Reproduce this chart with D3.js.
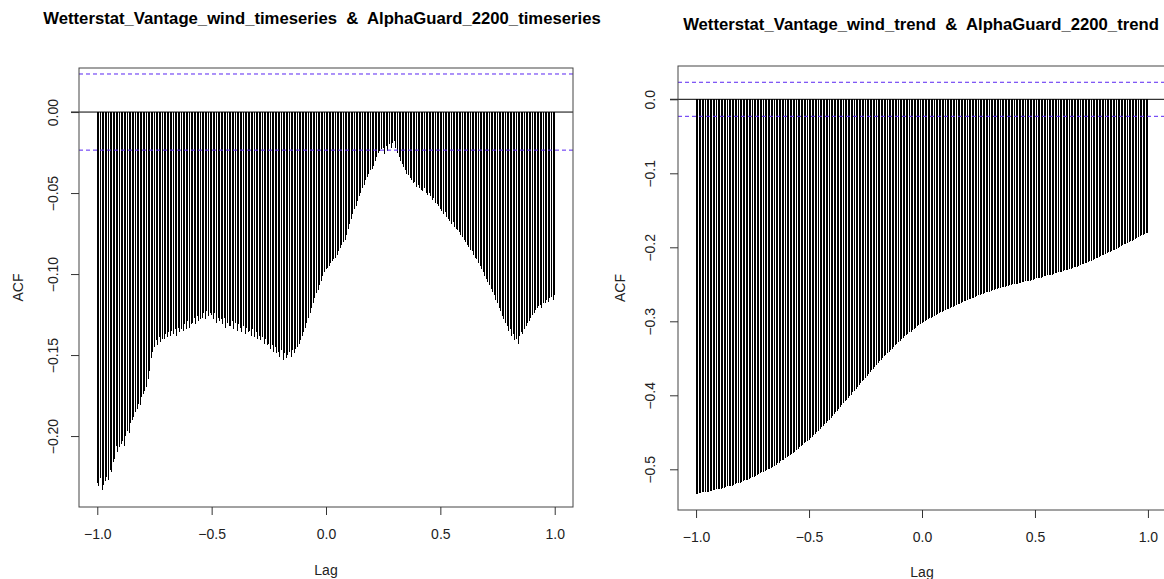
<!DOCTYPE html>
<html>
<head>
<meta charset="utf-8">
<script src="https://cdn.jsdelivr.net/npm/d3@7"></script>
<style>
  body { margin: 0; background: #fff; }
  svg { display: block; font-family: "Liberation Sans", Arial, Helvetica, sans-serif; }
</style>
</head>
<body>
<svg id="chart" width="1164" height="579"></svg>
<script>
// Lags in observation steps; 144 steps make one unit of lag.
const lagSteps = d3.range(-144, 145);
const stepsPerUnit = 144;

// Cross-correlation: wind time series vs. radon time series
const windAcf = [
  -0.229, -0.231, -0.226, -0.233, -0.230, -0.228,
  -0.225, -0.227, -0.221, -0.222, -0.216, -0.214,
  -0.206, -0.210, -0.207, -0.205, -0.203, -0.206,
  -0.200, -0.197, -0.198, -0.192, -0.190, -0.188,
  -0.185, -0.183, -0.180, -0.181, -0.176, -0.174,
  -0.172, -0.170, -0.165, -0.160, -0.152, -0.148,
  -0.145, -0.141, -0.144, -0.139, -0.142, -0.140,
  -0.140, -0.137, -0.139, -0.136, -0.138, -0.135,
  -0.137, -0.134, -0.138, -0.133, -0.136, -0.134,
  -0.135, -0.131, -0.134, -0.129, -0.133, -0.131,
  -0.130, -0.127, -0.131, -0.126, -0.129, -0.128,
  -0.127, -0.124, -0.128, -0.123, -0.126, -0.124,
  -0.125, -0.128, -0.124, -0.130, -0.127, -0.129,
  -0.128, -0.131, -0.127, -0.133, -0.130, -0.132,
  -0.132, -0.129, -0.134, -0.130, -0.135, -0.131,
  -0.133, -0.136, -0.132, -0.137, -0.133, -0.136,
  -0.135, -0.138, -0.134, -0.139, -0.136, -0.140,
  -0.138, -0.141, -0.139, -0.143, -0.140, -0.144,
  -0.143, -0.146, -0.144, -0.148, -0.145, -0.149,
  -0.148, -0.151, -0.147, -0.153, -0.149, -0.152,
  -0.150, -0.148, -0.151, -0.147, -0.149, -0.146,
  -0.145, -0.143, -0.141, -0.138, -0.136, -0.133,
  -0.130, -0.127, -0.124, -0.121, -0.118, -0.115,
  -0.112, -0.110, -0.107, -0.104, -0.101, -0.099,
  -0.097, -0.096, -0.095, -0.093, -0.092, -0.091,
  -0.090, -0.088, -0.086, -0.084, -0.082, -0.080,
  -0.079, -0.076, -0.072, -0.069, -0.066, -0.063,
  -0.060, -0.058, -0.055, -0.052, -0.050, -0.047,
  -0.045, -0.042, -0.040, -0.038, -0.036, -0.035,
  -0.033, -0.030, -0.028, -0.025, -0.024, -0.023,
  -0.022, -0.026, -0.021, -0.024, -0.020, -0.022,
  -0.019, -0.018, -0.022, -0.025, -0.028, -0.030,
  -0.032, -0.034, -0.036, -0.038, -0.039, -0.041,
  -0.042, -0.044, -0.043, -0.046, -0.045, -0.047,
  -0.048, -0.049, -0.047, -0.050, -0.051, -0.050,
  -0.052, -0.054, -0.053, -0.056, -0.057, -0.058,
  -0.060, -0.061, -0.063, -0.062, -0.065, -0.066,
  -0.067, -0.069, -0.068, -0.071, -0.072, -0.073,
  -0.074, -0.076, -0.077, -0.079, -0.080, -0.082,
  -0.083, -0.085, -0.086, -0.088, -0.090, -0.091,
  -0.093, -0.095, -0.097, -0.099, -0.101, -0.103,
  -0.105, -0.107, -0.109, -0.111, -0.113, -0.116,
  -0.118, -0.121, -0.123, -0.126, -0.128, -0.130,
  -0.132, -0.135, -0.134, -0.138, -0.137, -0.141,
  -0.140, -0.143, -0.138, -0.136, -0.137, -0.134,
  -0.132, -0.130, -0.129, -0.127, -0.125, -0.124,
  -0.122, -0.121, -0.120, -0.119, -0.121, -0.118,
  -0.118, -0.116, -0.117, -0.115, -0.114, -0.116,
  -0.113
];

// Cross-correlation: wind trend vs. radon trend
const trendAcf = [
  -0.533, -0.533, -0.532, -0.532, -0.531, -0.531, -0.531, -0.530, -0.530, -0.529, -0.529, -0.528,
  -0.528, -0.527, -0.527, -0.526, -0.526, -0.525, -0.525, -0.524, -0.523, -0.523, -0.522, -0.522,
  -0.521, -0.520, -0.519, -0.519, -0.518, -0.517, -0.516, -0.515, -0.514, -0.514, -0.513, -0.512,
  -0.511, -0.510, -0.509, -0.508, -0.507, -0.505, -0.504, -0.503, -0.502, -0.501, -0.500, -0.499,
  -0.498, -0.497, -0.495, -0.494, -0.492, -0.491, -0.489, -0.488, -0.487, -0.485, -0.484, -0.482,
  -0.481, -0.479, -0.478, -0.476, -0.474, -0.472, -0.470, -0.469, -0.467, -0.465, -0.463, -0.462,
  -0.460, -0.458, -0.456, -0.454, -0.452, -0.450, -0.448, -0.445, -0.443, -0.441, -0.439, -0.437,
  -0.435, -0.433, -0.430, -0.428, -0.425, -0.423, -0.421, -0.418, -0.416, -0.413, -0.411, -0.408,
  -0.406, -0.404, -0.401, -0.399, -0.396, -0.394, -0.391, -0.389, -0.386, -0.384, -0.381, -0.379,
  -0.376, -0.374, -0.371, -0.369, -0.366, -0.364, -0.362, -0.359, -0.357, -0.354, -0.352, -0.349,
  -0.347, -0.345, -0.343, -0.341, -0.339, -0.337, -0.335, -0.332, -0.330, -0.328, -0.326, -0.324,
  -0.322, -0.320, -0.319, -0.317, -0.315, -0.314, -0.312, -0.310, -0.309, -0.307, -0.305, -0.304,
  -0.302, -0.301, -0.300, -0.298, -0.297, -0.296, -0.295, -0.294, -0.293, -0.291, -0.290, -0.289,
  -0.288, -0.287, -0.286, -0.285, -0.284, -0.283, -0.282, -0.281, -0.280, -0.279, -0.278, -0.277,
  -0.276, -0.275, -0.274, -0.273, -0.272, -0.271, -0.270, -0.270, -0.269, -0.268, -0.267, -0.266,
  -0.265, -0.264, -0.263, -0.263, -0.262, -0.261, -0.260, -0.260, -0.259, -0.258, -0.258, -0.257,
  -0.256, -0.255, -0.255, -0.254, -0.254, -0.253, -0.252, -0.252, -0.251, -0.251, -0.250, -0.250,
  -0.249, -0.249, -0.248, -0.248, -0.247, -0.247, -0.246, -0.246, -0.245, -0.245, -0.244, -0.244,
  -0.243, -0.242, -0.242, -0.241, -0.241, -0.240, -0.239, -0.239, -0.238, -0.238, -0.237, -0.237,
  -0.236, -0.235, -0.235, -0.234, -0.233, -0.233, -0.232, -0.231, -0.231, -0.230, -0.229, -0.229,
  -0.228, -0.227, -0.226, -0.226, -0.225, -0.224, -0.223, -0.222, -0.221, -0.221, -0.220, -0.219,
  -0.218, -0.217, -0.216, -0.215, -0.214, -0.213, -0.212, -0.211, -0.210, -0.209, -0.208, -0.207,
  -0.206, -0.205, -0.204, -0.203, -0.202, -0.201, -0.200, -0.198, -0.197, -0.196, -0.195, -0.194,
  -0.193, -0.192, -0.191, -0.190, -0.189, -0.188, -0.186, -0.185, -0.184, -0.183, -0.182, -0.181,
  -0.180
];

const windTitle = "Wetterstat_Vantage_wind_timeseries  &  AlphaGuard_2200_timeseries";
const trendTitle = "Wetterstat_Vantage_wind_trend  &  AlphaGuard_2200_trend";

const lagTicks = [-1, -0.5, 0, 0.5, 1];
const lagTickLabels = ["\u22121.0", "\u22120.5", "0.0", "0.5", "1.0"];
const windYTicks = [0, -0.05, -0.10, -0.15, -0.20];
const windYTickLabels = ["0.00", "\u22120.05", "\u22120.10", "\u22120.15", "\u22120.20"];
const trendYTicks = [0, -0.1, -0.2, -0.3, -0.4, -0.5];
const trendYTickLabels = ["0.0", "\u22120.1", "\u22120.2", "\u22120.3", "\u22120.4", "\u22120.5"];

// Approximate 95% bounds (2/sqrt(n)) for each pair
const windConf = 0.0235;
const trendConf = 0.023;

const svg = d3.select("#chart");
const labelSize = 14;

function drawPanel(cfg) {
  const g = svg.append("g");
  const x = d3.scaleLinear().domain([-1.08, 1.08]).range([cfg.left, cfg.right]);
  const y = d3.scaleLinear().domain(cfg.yDomain).range([cfg.bottom, cfg.top]);

  // title
  g.append("text")
    .attr("x", cfg.titleX)
    .attr("y", cfg.titleY)
    .attr("text-anchor", "middle")
    .attr("font-size", 16.7)
    .attr("font-weight", "bold")
    .attr("fill", "#000")
    .style("white-space", "pre")
    .text(cfg.title);

  // bars (type = "h")
  const data = lagSteps.map((s, i) => ({ lag: s / stepsPerUnit, v: cfg.values[i] }));
  g.append("g")
    .attr("shape-rendering", "crispEdges")
    .selectAll("line")
    .data(data)
    .join("line")
    .attr("x1", d => x(d.lag))
    .attr("x2", d => x(d.lag))
    .attr("y1", y(0))
    .attr("y2", d => y(d.v))
    .attr("stroke", "#000")
    .attr("stroke-width", 1);

  // zero line
  g.append("line")
    .attr("x1", cfg.left - 8).attr("x2", cfg.right)
    .attr("y1", y(0)).attr("y2", y(0))
    .attr("stroke", "#000").attr("stroke-width", 1);

  // confidence bounds
  [cfg.conf, -cfg.conf].forEach(c => {
    g.append("line")
      .attr("x1", cfg.left).attr("x2", cfg.right)
      .attr("y1", y(c)).attr("y2", y(c))
      .attr("stroke", "#5a26f2")
      .attr("stroke-width", 1)
      .attr("stroke-dasharray", "4,3");
  });

  // frame
  g.append("rect")
    .attr("x", cfg.left).attr("y", cfg.top)
    .attr("width", cfg.right - cfg.left).attr("height", cfg.bottom - cfg.top)
    .attr("fill", "none").attr("stroke", "#444").attr("stroke-width", 1);

  // x axis
  const xAxis = g.append("g")
    .attr("transform", `translate(0,${cfg.bottom})`)
    .call(d3.axisBottom(x).tickValues(lagTicks).tickSize(8).tickPadding(14)
      .tickFormat((d, i) => lagTickLabels[i]));
  xAxis.select(".domain").remove();
  xAxis.selectAll(".tick line").attr("stroke", "#333");
  xAxis.selectAll("text").attr("font-size", labelSize).attr("fill", "#222")
    .attr("font-family", "Liberation Sans, Arial, sans-serif");

  // y axis
  const yAxis = g.append("g")
    .attr("transform", `translate(${cfg.left},0)`)
    .call(d3.axisLeft(y).tickValues(cfg.yTicks).tickSize(8).tickFormat((d, i) => cfg.yTickLabels[i]));
  yAxis.select(".domain").remove();
  yAxis.selectAll(".tick line").attr("stroke", "#333");
  yAxis.selectAll("text")
    .attr("font-size", labelSize).attr("fill", "#222")
    .attr("font-family", "Liberation Sans, Arial, sans-serif")
    .attr("text-anchor", "middle")
    .attr("dy", null)
    .attr("x", null)
    .attr("transform", `translate(${-cfg.yLabelOffset},0) rotate(-90)`)
    .attr("y", 0)
    .attr("dominant-baseline", "central");

  // axis titles
  g.append("text")
    .attr("x", (x(-1) + x(1)) / 2)
    .attr("y", cfg.lagLabelY)
    .attr("text-anchor", "middle")
    .attr("font-size", labelSize).attr("fill", "#222")
    .text("Lag");
  g.append("text")
    .attr("transform", `translate(${cfg.acfLabelX},${(cfg.top + cfg.bottom) / 2}) rotate(-90)`)
    .attr("text-anchor", "middle")
    .attr("dominant-baseline", "central")
    .attr("font-size", labelSize).attr("fill", "#222")
    .text("ACF");
}

drawPanel({
  title: windTitle, titleX: 322, titleY: 24,
  left: 79, right: 573, top: 68, bottom: 507,
  yDomain: [-0.2438, 0.0272],
  values: windAcf, conf: windConf,
  yTicks: windYTicks, yTickLabels: windYTickLabels,
  yLabelOffset: 26, acfLabelX: 18, lagLabelY: 575
});

drawPanel({
  title: trendTitle, titleX: 921, titleY: 30,
  left: 678, right: 1166, top: 66, bottom: 510,
  yDomain: [-0.555, 0.045],
  values: trendAcf, conf: trendConf,
  yTicks: trendYTicks, yTickLabels: trendYTickLabels,
  yLabelOffset: 28, acfLabelX: 620, lagLabelY: 577
});
</script>
</body>
</html>
